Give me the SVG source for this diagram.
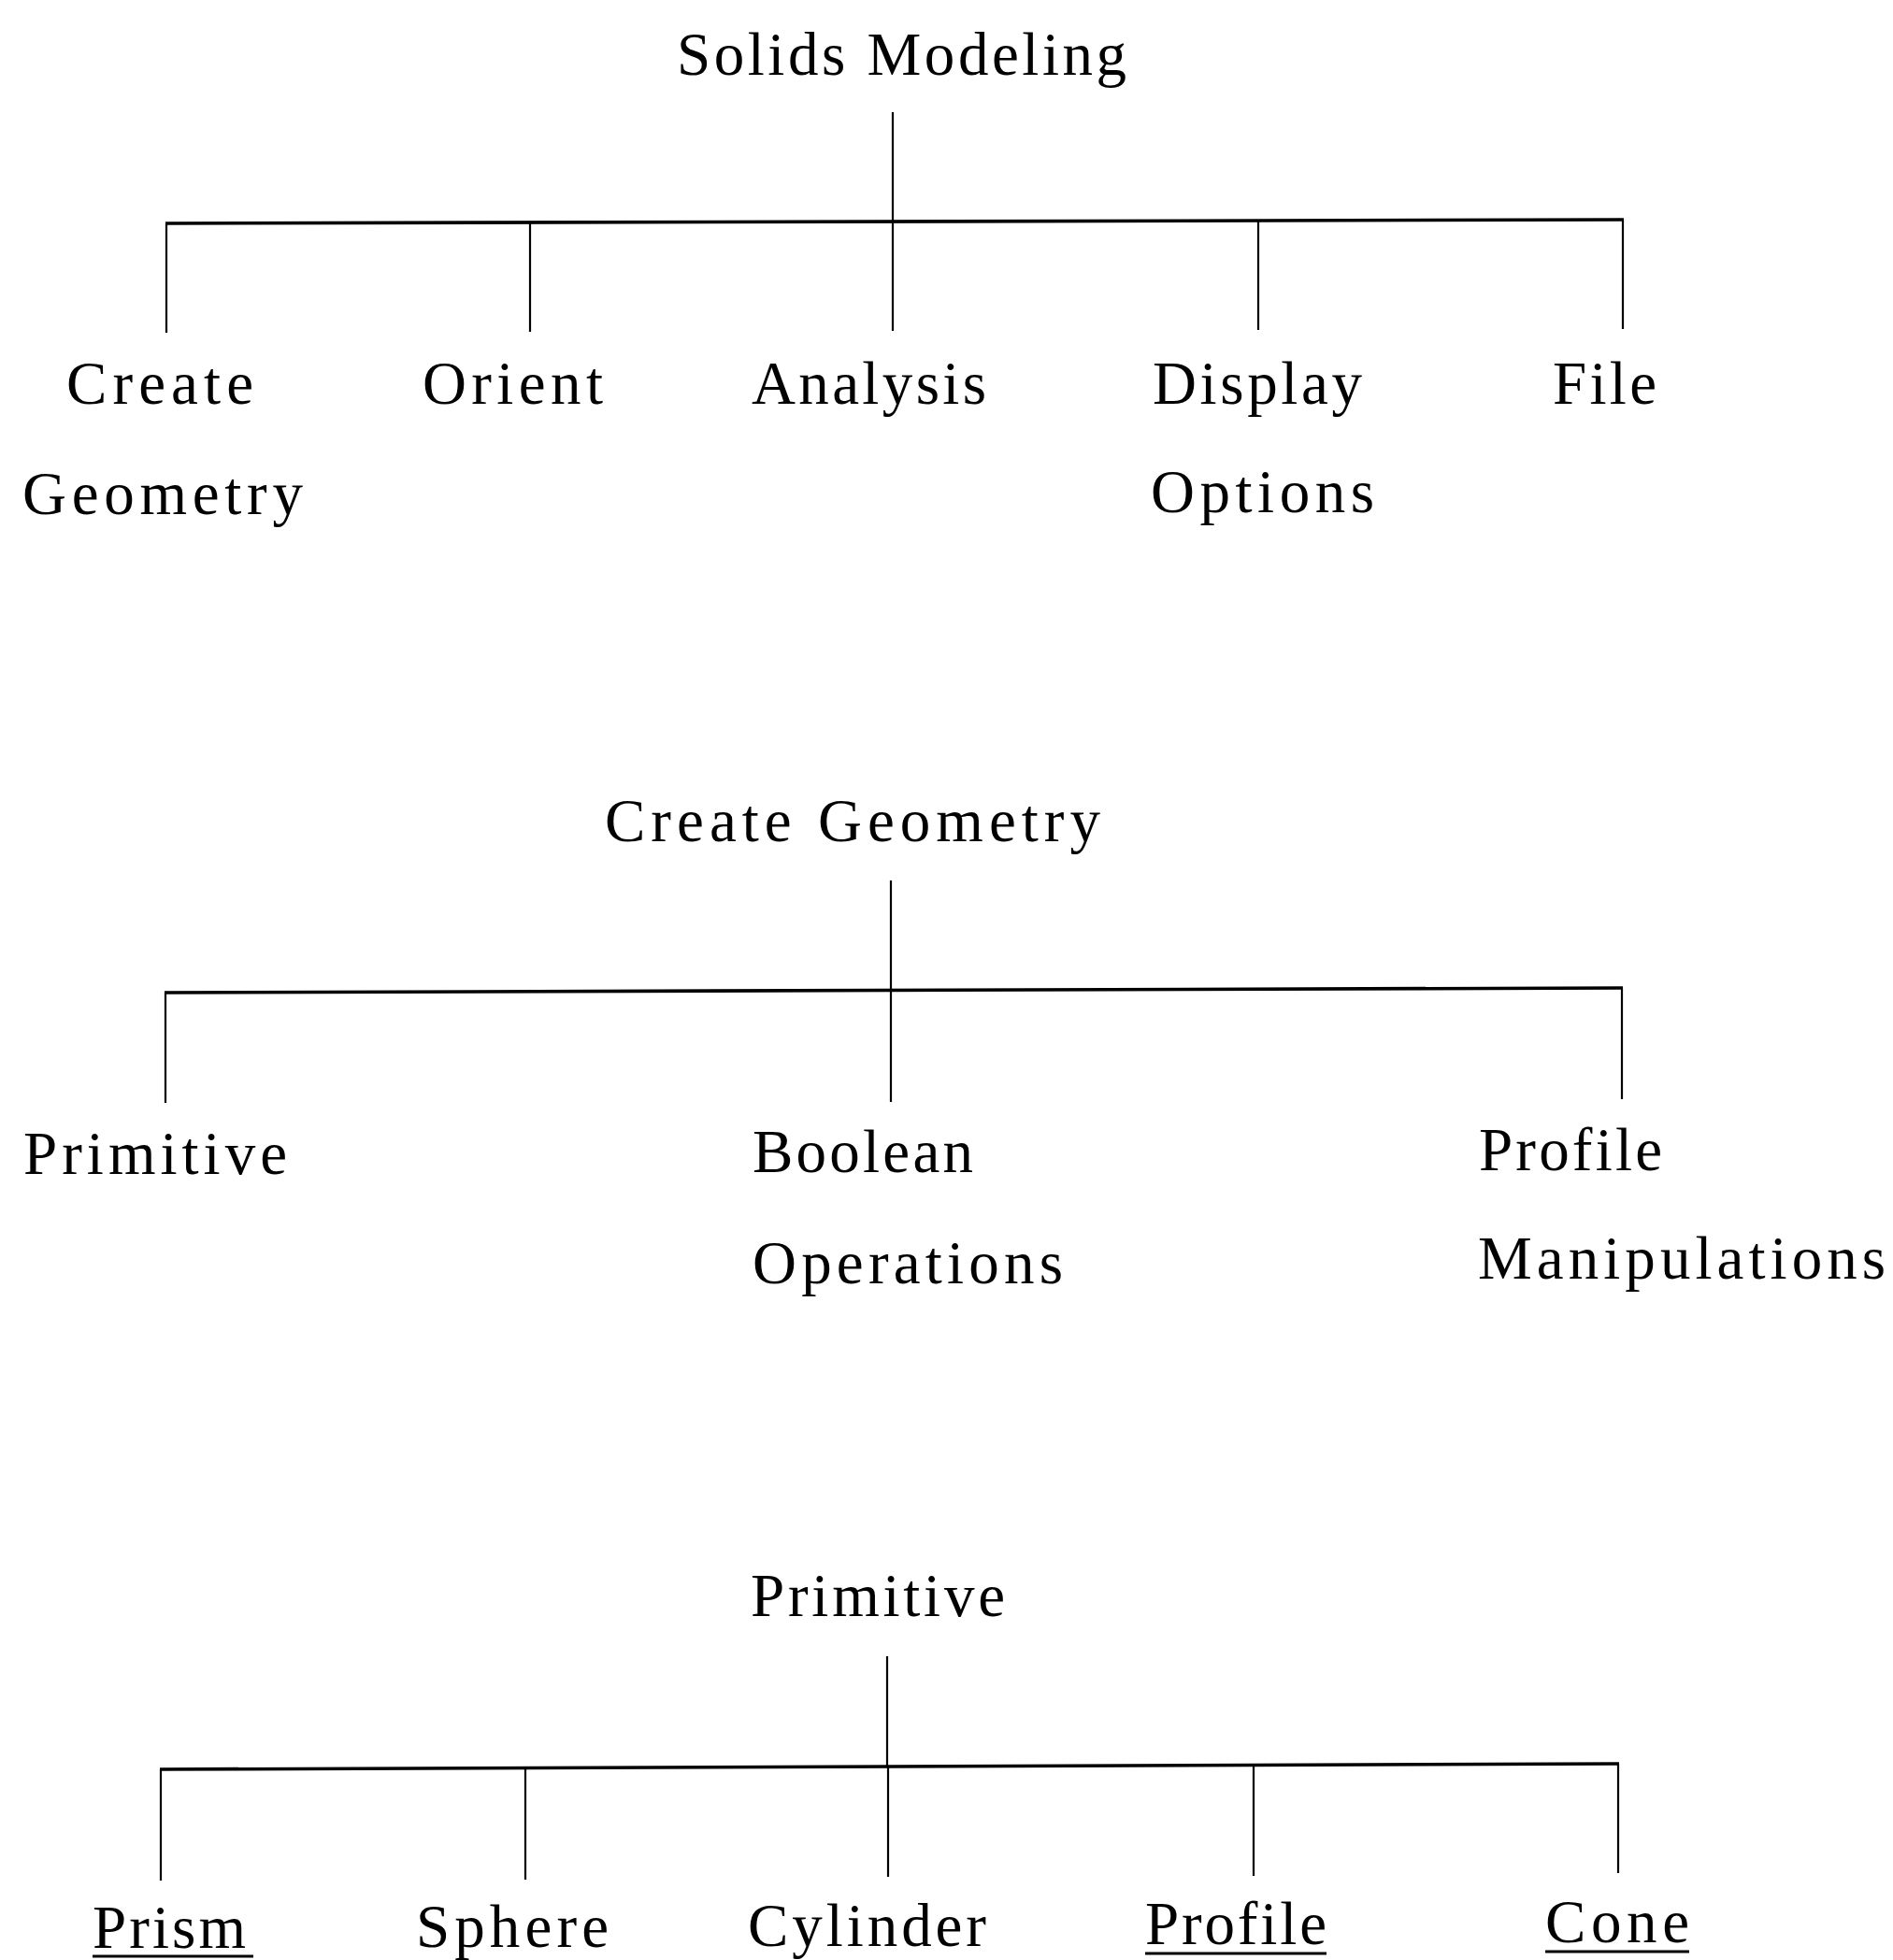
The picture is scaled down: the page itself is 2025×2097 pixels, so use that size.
<svg xmlns="http://www.w3.org/2000/svg" width="2025" height="2097" viewBox="0 0 2025 2097">
<style>
text{font-family:"Liberation Serif","Times New Roman",serif;font-size:65px;fill:#000}
.c line{stroke:#000;stroke-width:2.2;stroke-linecap:butt}
.c line.bar{stroke-width:3.6}
.ul{stroke:#000;stroke-width:3}
</style>
<rect width="2025" height="2097" fill="#fff"/>
<g class="c" id="connectors">
<line x1="955" y1="120" x2="955" y2="238"/>
<line class="bar" x1="177" y1="239" x2="1737" y2="235"/>
<line x1="178" y1="239" x2="178" y2="356"/>
<line x1="567" y1="238" x2="567" y2="355"/>
<line x1="955" y1="237" x2="955" y2="354"/>
<line x1="1346" y1="236" x2="1346" y2="353"/>
<line x1="1736" y1="235" x2="1736" y2="352"/>

<line x1="953" y1="942" x2="953" y2="1061"/>
<line class="bar" x1="176" y1="1062" x2="1736" y2="1057"/>
<line x1="177" y1="1062" x2="177" y2="1180"/>
<line x1="953" y1="1060" x2="953" y2="1179"/>
<line x1="1735" y1="1057" x2="1735" y2="1176"/>

<line x1="949" y1="1772" x2="949" y2="1891"/>
<line class="bar" x1="171" y1="1893" x2="1732" y2="1887"/>
<line x1="172" y1="1893" x2="172" y2="2012"/>
<line x1="562" y1="1892" x2="562" y2="2011"/>
<line x1="950" y1="1890" x2="950" y2="2008"/>
<line x1="1341" y1="1889" x2="1341" y2="2007"/>
<line x1="1731" y1="1887" x2="1731" y2="2004"/>
</g>
<g id="n-solids-modeling"><text x="724" y="80" textLength="481" lengthAdjust="spacing">Solids Modeling</text></g>
<g id="n-create-geometry-1"><text x="71" y="432" textLength="200" lengthAdjust="spacing">Create</text><text x="24" y="550" textLength="300" lengthAdjust="spacing">Geometry</text></g>
<g id="n-orient"><text x="452" y="432" textLength="193" lengthAdjust="spacing">Orient</text></g>
<g id="n-analysis"><text x="804" y="432" textLength="251" lengthAdjust="spacing">Analysis</text></g>
<g id="n-display-options"><text x="1233" y="432" textLength="224" lengthAdjust="spacing">Display</text><text x="1231" y="548" textLength="239" lengthAdjust="spacing">Options</text></g>
<g id="n-file"><text x="1661" y="432" textLength="111" lengthAdjust="spacing">File</text></g>

<g id="n-create-geometry"><text x="647" y="900" textLength="530" lengthAdjust="spacing">Create Geometry</text></g>
<g id="n-primitive-1"><text x="25" y="1256" textLength="282" lengthAdjust="spacing">Primitive</text></g>
<g id="n-boolean-operations"><text x="805" y="1254" textLength="236" lengthAdjust="spacing">Boolean</text><text x="805" y="1373" textLength="332" lengthAdjust="spacing">Operations</text></g>
<g id="n-profile-manipulations"><text x="1582" y="1252" textLength="196" lengthAdjust="spacing">Profile</text><text x="1581" y="1368" textLength="436" lengthAdjust="spacing">Manipulations</text></g>

<g id="n-primitive"><text x="803" y="1729" textLength="272" lengthAdjust="spacing">Primitive</text></g>
<g id="n-prism"><text x="99" y="2084" textLength="164" lengthAdjust="spacing">Prism</text><line class="ul" x1="99" y1="2093" x2="271" y2="2093"/></g>
<g id="n-sphere"><text x="445" y="2083" textLength="206" lengthAdjust="spacing">Sphere</text></g>
<g id="n-cylinder"><text x="800" y="2082" textLength="255" lengthAdjust="spacing">Cylinder</text></g>
<g id="n-profile"><text x="1225" y="2080" textLength="194" lengthAdjust="spacing">Profile</text><line class="ul" x1="1225" y1="2090" x2="1419" y2="2090"/></g>
<g id="n-cone"><text x="1653" y="2078" textLength="154" lengthAdjust="spacing">Cone</text><line class="ul" x1="1653" y1="2088" x2="1807" y2="2088"/></g>
</svg>
